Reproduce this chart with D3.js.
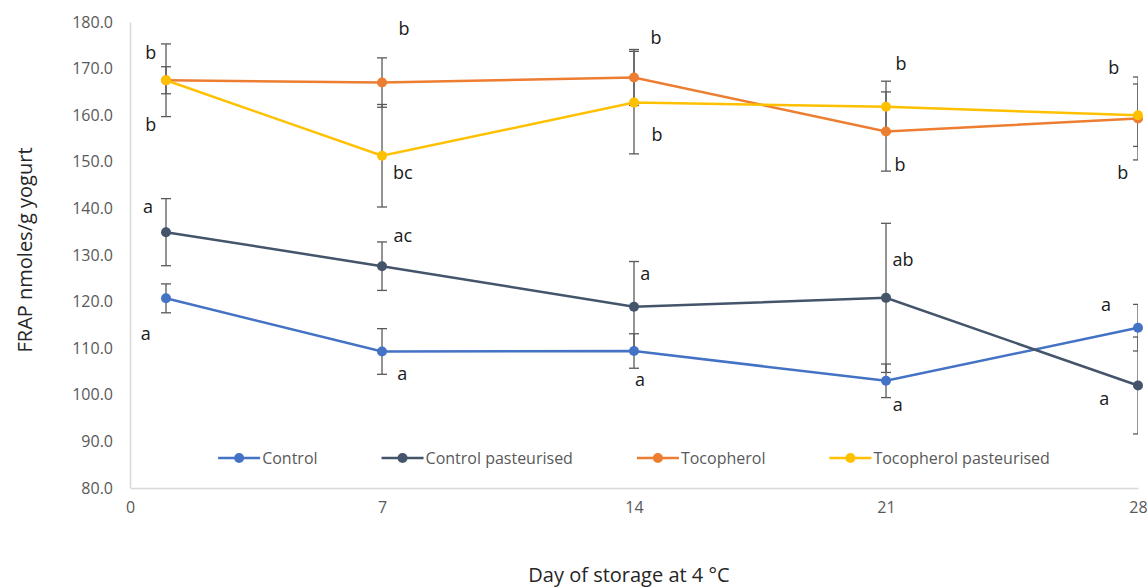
<!DOCTYPE html>
<html>
<head>
<meta charset="utf-8">
<script src="https://cdn.jsdelivr.net/npm/d3@7"></script>
<style>
    body { margin: 0; background: #fff; }
    svg { display: block; font-family: 'Open Sans', sans-serif; }
</style>
</head>
<body>
<svg id="chart" width="1148" height="587"></svg>
<script>
const days = [1, 7, 14, 21, 28];
const xTicks = [0, 7, 14, 21, 28];
const yTicks = [80, 90, 100, 110, 120, 130, 140, 150, 160, 170, 180];

const control = [120.7, 109.3, 109.4, 103.0, 114.4];
const controlErr = [3.1, 4.9, 3.7, 3.6, 5.0];
const controlPast = [134.9, 127.6, 118.9, 120.8, 102.0];
const controlPastErr = [7.2, 5.2, 9.7, 16.0, 10.4];
const tocopherol = [167.5, 167.0, 168.1, 156.5, 159.3];
const tocopherolErr = [7.8, 5.3, 6.0, 8.5, 8.9];
const tocopherolPast = [167.5, 151.3, 162.7, 161.8, 160.0];
const tocopherolPastErr = [2.9, 11.0, 11.0, 5.5, 6.7];

// significance letters, placed at [day, value]
const letters = [
    [0.58, 173.6, 'b'], [0.58, 158.1, 'b'], [0.5, 140.5, 'a'], [0.44, 113.3, 'a'],
    [7.61, 178.7, 'b'], [7.58, 147.8, 'bc'], [7.58, 134.3, 'ac'], [7.56, 104.7, 'a'],
    [14.61, 176.8, 'b'], [14.64, 156.0, 'b'], [14.31, 126.1, 'a'], [14.17, 103.4, 'a'],
    [21.42, 171.2, 'b'], [21.39, 149.5, 'b'], [21.47, 129.1, 'ab'], [21.33, 98.0, 'a'],
    [27.33, 170.3, 'b'], [27.58, 147.8, 'b'], [27.11, 119.5, 'a'], [27.06, 99.3, 'a'],
];

const series = [
    { name: 'Control', values: control, err: controlErr, color: '#4472c4' },
    { name: 'Control pasteurised', values: controlPast, err: controlPastErr, color: '#44546a' },
    { name: 'Tocopherol', values: tocopherol, err: tocopherolErr, color: '#ed7d31' },
    { name: 'Tocopherol pasteurised', values: tocopherolPast, err: tocopherolPastErr, color: '#ffc000' },
];

const plot = { left: 130, right: 1138, top: 22, bottom: 488 };

const x = d3.scaleLinear().domain([0, 28]).range([plot.left, plot.right]);
const y = d3.scaleLinear().domain([80, 180]).range([plot.bottom, plot.top]);

const svg = d3.select('#chart');

svg.append('clipPath')
    .attr('id', 'plot-clip')
    .append('rect')
    .attr('x', 0)
    .attr('y', 0)
    .attr('width', plot.right)
    .attr('height', 587);

// axes
const yAxis = svg.append('g')
    .attr('transform', `translate(${plot.left},0)`)
    .call(d3.axisLeft(y).tickValues(yTicks).tickFormat(d3.format('.1f')).tickSize(0).tickPadding(17));
const xAxis = svg.append('g')
    .attr('transform', `translate(0,${plot.bottom})`)
    .call(d3.axisBottom(x).tickValues(xTicks).tickSize(0).tickPadding(14));

[xAxis, yAxis].forEach(g => {
    g.select('.domain').attr('stroke', '#d9d9d9').attr('stroke-width', 1.5);
    g.selectAll('text')
        .attr('fill', '#595959')
        .style('font-size', '16px')
        .style('font-family', "'Open Sans', sans-serif");
});

svg.append('text')
    .attr('transform', `translate(24,250) rotate(-90)`)
    .attr('text-anchor', 'middle')
    .attr('dominant-baseline', 'central')
    .attr('fill', '#262626')
    .style('font-size', '20px')
    .text('FRAP nmoles/g yogurt');

svg.append('text')
    .attr('x', 629)
    .attr('y', 574)
    .attr('text-anchor', 'middle')
    .attr('dominant-baseline', 'central')
    .attr('fill', '#262626')
    .style('font-size', '20px')
    .text('Day of storage at 4 °C');

// error bars
const errG = svg.append('g').attr('clip-path', 'url(#plot-clip)');
series.forEach(s => {
    const bars = errG.append('g')
        .selectAll('g')
        .data(days.map((d, i) => ({ day: d, v: s.values[i], e: s.err[i] })))
        .join('g')
        .attr('stroke', '#595959')
        .attr('stroke-width', 1.3);
    bars.append('line')
        .attr('x1', d => x(d.day))
        .attr('x2', d => x(d.day))
        .attr('y1', d => y(d.v + d.e))
        .attr('y2', d => y(d.v - d.e));
    bars.selectAll('line.cap')
        .data(d => [d.v + d.e, d.v - d.e].map(v => ({ day: d.day, v })))
        .join('line')
        .classed('cap', true)
        .attr('x1', d => x(d.day) - 5)
        .attr('x2', d => x(d.day) + 5)
        .attr('y1', d => y(d.v))
        .attr('y2', d => y(d.v));
});

// lines and markers
const line = d3.line().x((d, i) => x(days[i])).y(d => y(d));
series.forEach(s => {
    svg.append('path')
        .datum(s.values)
        .attr('fill', 'none')
        .attr('stroke', s.color)
        .attr('stroke-width', 2.5)
        .attr('d', line);
    svg.append('g')
        .selectAll('circle')
        .data(s.values)
        .join('circle')
        .attr('cx', (d, i) => x(days[i]))
        .attr('cy', d => y(d))
        .attr('r', 5)
        .attr('fill', s.color);
});

// letters
svg.append('g')
    .selectAll('text')
    .data(letters)
    .join('text')
    .attr('x', d => x(d[0]))
    .attr('y', d => y(d[1]))
    .attr('text-anchor', 'middle')
    .attr('dominant-baseline', 'central')
    .attr('fill', '#1a1a1a')
    .style('font-size', '18px')
    .text(d => d[2]);

// legend
const legend = svg.append('g').attr('transform', 'translate(0,458)');
const items = legend.selectAll('g')
    .data(series)
    .join('g');
items.append('line')
    .attr('x1', 0)
    .attr('x2', 42)
    .attr('stroke', d => d.color)
    .attr('stroke-width', 2.5);
items.append('circle')
    .attr('cx', 21)
    .attr('r', 5)
    .attr('fill', d => d.color);
items.append('text')
    .attr('x', 44)
    .attr('dominant-baseline', 'central')
    .attr('fill', '#595959')
    .style('font-size', '16px')
    .text(d => d.name);

let offset = 0;
const starts = [];
items.each(function () {
    const w = this.getBBox().width;
    starts.push(offset);
    offset += w + 64;
});
const total = offset - 64;
const start = (plot.left + plot.right) / 2 - total / 2;
items.attr('transform', (d, i) => `translate(${start + starts[i]},0)`);
</script>
</body>
</html>
